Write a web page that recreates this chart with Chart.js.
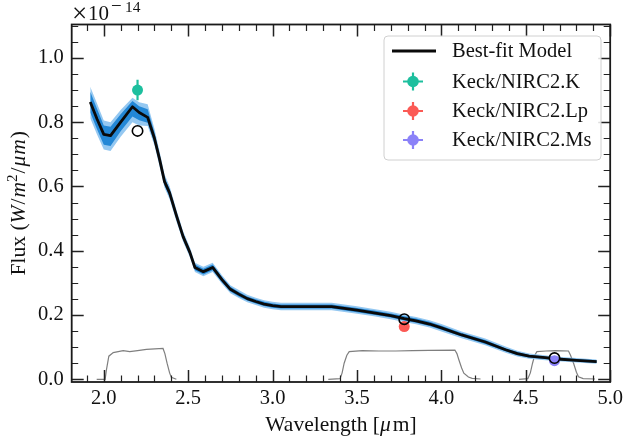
<!DOCTYPE html>
<html><head><meta charset="utf-8">
<script src="https://cdn.jsdelivr.net/npm/chart.js@4.4.0/dist/chart.umd.min.js"></script>
<style>html,body{margin:0;padding:0;background:#fff;}#wrap{width:627px;height:443px;}</style>
</head><body><div id="wrap"><canvas id="c" width="627" height="443"></canvas></div>
<script>
// ---- data (flux in units of 1e-14 W/m^2/um) ----
const modelWave = [1.92,1.96,2.0,2.04,2.1,2.17,2.21,2.26,2.3,2.33,2.36,2.39,2.43,2.47,2.51,2.54,2.59,2.645,2.7,2.75,2.8,2.85,2.9,2.95,3.0,3.05,3.2,3.35,3.5,3.6,3.7,3.78,3.85,3.93,4.0,4.12,4.26,4.38,4.45,4.52,4.6,4.67,4.8,4.92];
const modelFlux = [0.863,0.810,0.762,0.758,0.800,0.848,0.830,0.815,0.750,0.686,0.615,0.580,0.510,0.444,0.395,0.348,0.335,0.348,0.310,0.280,0.265,0.251,0.242,0.234,0.229,0.226,0.226,0.226,0.215,0.207,0.198,0.189,0.182,0.172,0.160,0.138,0.116,0.092,0.080,0.072,0.068,0.064,0.059,0.055];
const sampleOuterHigh = [0.910,0.858,0.805,0.800,0.838,0.876,0.862,0.856,0.780,0.710,0.637,0.601,0.528,0.461,0.411,0.363,0.350,0.363,0.324,0.293,0.278,0.263,0.254,0.246,0.241,0.238,0.238,0.238,0.227,0.219,0.210,0.201,0.194,0.184,0.172,0.149,0.127,0.102,0.089,0.080,0.076,0.071,0.066,0.062];
const sampleOuterLow  = [0.812,0.762,0.715,0.710,0.755,0.800,0.790,0.788,0.728,0.664,0.596,0.560,0.492,0.428,0.380,0.334,0.321,0.334,0.297,0.268,0.253,0.240,0.231,0.223,0.218,0.215,0.215,0.215,0.204,0.196,0.187,0.178,0.171,0.161,0.149,0.128,0.106,0.083,0.071,0.064,0.060,0.057,0.052,0.048];
const sampleInnerHigh = [0.895,0.842,0.790,0.786,0.825,0.866,0.850,0.840,0.768,0.700,0.628,0.592,0.521,0.454,0.404,0.357,0.344,0.357,0.318,0.288,0.272,0.258,0.249,0.241,0.236,0.233,0.233,0.233,0.222,0.214,0.205,0.196,0.189,0.179,0.167,0.144,0.122,0.097,0.085,0.076,0.072,0.068,0.063,0.059];
const sampleInnerLow  = [0.830,0.778,0.730,0.726,0.772,0.818,0.806,0.798,0.736,0.672,0.603,0.568,0.499,0.434,0.386,0.339,0.326,0.339,0.302,0.273,0.258,0.245,0.236,0.228,0.223,0.220,0.220,0.220,0.209,0.201,0.192,0.183,0.176,0.166,0.154,0.133,0.110,0.087,0.075,0.068,0.064,0.060,0.055,0.051];

const filterKWave  = [1.958,2.008,2.016,2.03,2.056,2.115,2.154,2.2,2.253,2.351,2.362,2.375,2.39,2.40,2.43];
const filterKThru  = [0.0,0.0,0.03,0.072,0.083,0.089,0.086,0.089,0.093,0.096,0.08,0.05,0.02,0.006,0.0];
const filterLpWave = [3.33,3.40,3.412,3.424,3.44,3.454,3.532,3.63,3.729,3.83,3.926,4.08,4.092,4.104,4.12,4.133,4.16,4.182,4.232];
const filterLpThru = [0.0,0.002,0.02,0.05,0.075,0.086,0.089,0.088,0.088,0.089,0.090,0.091,0.08,0.06,0.035,0.019,0.007,0.003,0.001];
const filterMsWave = [4.46,4.512,4.527,4.54,4.553,4.566,4.62,4.674,4.753,4.765,4.783,4.8,4.812,4.84,4.91];
const filterMsThru = [0.0,0.002,0.02,0.05,0.075,0.086,0.088,0.089,0.088,0.075,0.05,0.022,0.008,0.002,0.001];

const photBands  = ['Keck/NIRC2.K','Keck/NIRC2.Lp','Keck/NIRC2.Ms'];
const photWave   = [2.20, 3.78, 4.67];
const photFlux   = [0.900, 0.164, 0.058];
const photErr    = [0.032, 0.006, 0.004];
const photColors = ['#1dbf9e', '#fb5a55', '#8b82f8'];
const synthFlux  = [0.773, 0.187, 0.066];

const xTickValues = [2.0,2.5,3.0,3.5,4.0,4.5,5.0];
const xMinorValues = [1.9,2.1,2.2,2.3,2.4,2.6,2.7,2.8,2.9,3.1,3.2,3.3,3.4,3.6,3.7,3.8,3.9,4.1,4.2,4.3,4.4,4.6,4.7,4.8,4.9];
const yTickValues = [0.0,0.2,0.4,0.6,0.8,1.0];
const yMinorValues = [0.05,0.1,0.15,0.25,0.3,0.35,0.45,0.5,0.55,0.65,0.7,0.75,0.85,0.9,0.95,1.05,1.1];

const SERIF = '"Liberation Serif","Times New Roman",serif';
const pts = (xs, ys) => xs.map((x, i) => ({x: x, y: ys[i]}));

const datasets = [];
function line(xs, ys, color, width, order, extra) {
  return Object.assign({data: pts(xs, ys), showLine: true, borderColor: color, borderWidth: width,
    pointRadius: 0, fill: false, tension: 0, order: order}, extra || {});
}
// filter curves
datasets.push(line(filterKWave, filterKThru, '#7f7f7f', 1.2, 20));
datasets.push(line(filterLpWave, filterLpThru, '#7f7f7f', 1.2, 20));
datasets.push(line(filterMsWave, filterMsThru, '#7f7f7f', 1.2, 20));
// sample envelopes
datasets.push(line(modelWave, sampleOuterHigh, 'rgba(0,0,0,0)', 0, 15, {fill: '+1', backgroundColor: 'rgba(130,190,238,0.85)'}));
datasets.push(line(modelWave, sampleOuterLow, 'rgba(0,0,0,0)', 0, 15));
datasets.push(line(modelWave, sampleInnerHigh, 'rgba(0,0,0,0)', 0, 14, {fill: '+1', backgroundColor: 'rgba(28,132,212,0.95)'}));
datasets.push(line(modelWave, sampleInnerLow, 'rgba(0,0,0,0)', 0, 14));
// best fit model
datasets.push(line(modelWave, modelFlux, '#0a0a0a', 2.8, 10, {borderJoinStyle: 'round'}));
// photometry
photBands.forEach((b, i) => {
  datasets.push({data: [{x: photWave[i], y: photFlux[i] - photErr[i]}, {x: photWave[i], y: photFlux[i] + photErr[i]}],
    showLine: true, borderColor: photColors[i], borderWidth: 2.2, pointRadius: 0, order: 6});
  datasets.push({data: [{x: photWave[i], y: photFlux[i]}], showLine: false, pointRadius: 5.5,
    pointBackgroundColor: photColors[i], pointBorderWidth: 0, pointBorderColor: photColors[i], order: 5});
});
datasets.push({data: pts(photWave, synthFlux), showLine: false, pointRadius: 5.2, pointBorderWidth: 1.6,
  pointBorderColor: '#000', pointBackgroundColor: 'rgba(0,0,0,0)', order: 1});

function segDraw(ctx, segs, x, y, base) {
  let total = 0;
  segs.forEach(s => { ctx.font = (s.it ? 'italic ' : '') + (s.sz || base) + 'px ' + SERIF; s.w = ctx.measureText(s.t).width; total += s.w + (s.gap || 0); });
  let cx = x - total / 2;
  segs.forEach(s => { ctx.font = (s.it ? 'italic ' : '') + (s.sz || base) + 'px ' + SERIF; ctx.fillText(s.t, cx, y + (s.dy || 0)); cx += s.w + (s.gap || 0); });
}

const decor = {
  id: 'decor',
  afterDraw(chart) {
    const ctx = chart.ctx, a = chart.chartArea, xs = chart.scales.x, ys = chart.scales.y;
    ctx.save();
    ctx.strokeStyle = '#222';
    const tick = (vals, len, lw, horiz) => {
      ctx.lineWidth = lw; ctx.beginPath();
      vals.forEach(v => {
        if (horiz) { const p = Math.round(xs.getPixelForValue(v)) + 0.5;
          ctx.moveTo(p, a.bottom); ctx.lineTo(p, a.bottom - len); ctx.moveTo(p, a.top); ctx.lineTo(p, a.top + len); }
        else { const p = Math.round(ys.getPixelForValue(v)) + 0.5;
          ctx.moveTo(a.left, p); ctx.lineTo(a.left + len, p); ctx.moveTo(a.right, p); ctx.lineTo(a.right - len, p); }
      });
      ctx.stroke();
    };
    tick(xTickValues, 12, 1.5, true); tick(xMinorValues, 6.5, 1.2, true);
    tick(yTickValues, 12, 1.5, false); tick(yMinorValues, 6.5, 1.2, false);
    ctx.lineWidth = 1.8; ctx.strokeStyle = '#1a1a1a';
    ctx.strokeRect(a.left, a.top, a.right - a.left, a.bottom - a.top);
    // offset text x10^-14
    ctx.fillStyle = '#111'; ctx.textBaseline = 'alphabetic'; ctx.textAlign = 'left';
    ctx.font = '27px ' + SERIF; ctx.fillText('\u00d7', 72, 21.5);
    ctx.font = '21px ' + SERIF; ctx.fillText('10', 88, 20);
    ctx.font = '19px ' + SERIF; ctx.fillText('\u2212', 111, 12);
    ctx.font = '15.5px ' + SERIF; ctx.fillText('14', 125, 12);
    // axis titles
    segDraw(ctx, [{t: 'Wavelength ['}, {t: '\u03bc', it: true, gap: 2}, {t: 'm]'}], (a.left + a.right) / 2, 431, 21.5);
    ctx.save(); ctx.translate(25, (a.top + a.bottom) / 2); ctx.rotate(-Math.PI / 2);
    segDraw(ctx, [{t: 'Flux ('}, {t: 'W', it: true, gap: 1}, {t: '/', gap: 1}, {t: 'm', it: true}, {t: '2', sz: 15, dy: -8, gap: 1},
      {t: '/', gap: 1}, {t: '\u03bc', it: true, gap: 1}, {t: 'm', it: true, gap: 1}, {t: ')'}], 0, 0, 21.5);
    ctx.restore();
    // legend
    const L = 384, T = 36, W = 217, H = 124, r = 4;
    ctx.beginPath(); ctx.moveTo(L + r, T); ctx.arcTo(L + W, T, L + W, T + H, r); ctx.arcTo(L + W, T + H, L, T + H, r);
    ctx.arcTo(L, T + H, L, T, r); ctx.arcTo(L, T, L + W, T, r); ctx.closePath();
    ctx.fillStyle = 'rgba(255,255,255,0.85)'; ctx.fill(); ctx.lineWidth = 1; ctx.strokeStyle = '#d0d0d0'; ctx.stroke();
    const rows = [51, 81.5, 111, 140];
    ctx.strokeStyle = '#0a0a0a'; ctx.lineWidth = 2.8; ctx.beginPath(); ctx.moveTo(392, rows[0]); ctx.lineTo(436, rows[0]); ctx.stroke();
    photBands.forEach((b, i) => {
      const cx = 413, cy = rows[i + 1];
      ctx.strokeStyle = photColors[i]; ctx.lineWidth = 2.2; ctx.beginPath();
      ctx.moveTo(cx - 10, cy); ctx.lineTo(cx + 10, cy); ctx.moveTo(cx, cy - 9); ctx.lineTo(cx, cy + 9); ctx.stroke();
      ctx.fillStyle = photColors[i]; ctx.beginPath(); ctx.arc(cx, cy, 5.8, 0, Math.PI * 2); ctx.fill();
    });
    ctx.fillStyle = '#111'; ctx.font = '20.5px ' + SERIF; ctx.textBaseline = 'middle';
    const labels = ['Best-fit Model'].concat(photBands);
    labels.forEach((t, i) => ctx.fillText(t, 452, rows[i] + 1));
    ctx.restore();
  }
};

new Chart(document.getElementById('c'), {
  type: 'scatter',
  data: {datasets: datasets},
  options: {
    responsive: false, animation: false, devicePixelRatio: 1, events: [],
    layout: {padding: {top: 24.5, right: 15.3, left: 0, bottom: 0}},
    plugins: {legend: {display: false}, tooltip: {enabled: false}},
    scales: {
      x: {type: 'linear', min: 1.81, max: 5.0,
        grid: {display: false, drawTicks: false}, border: {display: false},
        afterFit: s => { s.height = 61; },
        afterBuildTicks: s => { s.ticks = xTickValues.map(v => ({value: v})); },
        ticks: {padding: 4, color: '#111', font: {family: SERIF, size: 20.5}, callback: v => Number(v).toFixed(1), maxRotation: 0, autoSkip: false}},
      y: {type: 'linear', min: -0.0084, max: 1.104,
        grid: {display: false, drawTicks: false}, border: {display: false},
        afterFit: s => { s.width = 71.7; },
        afterBuildTicks: s => { s.ticks = yTickValues.map(v => ({value: v})); },
        ticks: {padding: 8, color: '#111', font: {family: SERIF, size: 20.5}, callback: v => Number(v).toFixed(1), autoSkip: false}}
    }
  },
  plugins: [decor]
});
</script></body></html>
